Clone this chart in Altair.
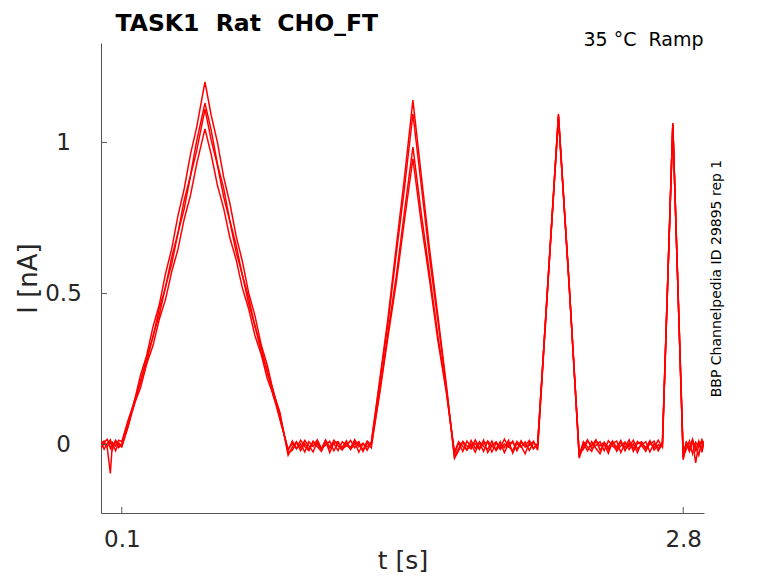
import altair as alt
import pandas as pd

# time grid (s), shared by all sweeps
t_s = [
    0.0, 0.015, 0.03, 0.045, 0.055, 0.07, 0.085, 0.1,
    0.13, 0.16, 0.19, 0.22, 0.25, 0.28, 0.31, 0.34, 0.37, 0.40, 0.43, 0.46, 0.50,
    0.53, 0.56, 0.59, 0.62, 0.65, 0.68, 0.71, 0.74, 0.77, 0.80, 0.83, 0.86, 0.90,
    0.92, 0.94, 0.96, 0.98, 1.00, 1.02, 1.04, 1.06, 1.08, 1.10, 1.12, 1.14, 1.16, 1.18, 1.20, 1.22, 1.24, 1.26, 1.28, 1.30,
    1.34, 1.38, 1.42, 1.46, 1.50,
    1.54, 1.58, 1.62, 1.66, 1.70,
    1.72, 1.74, 1.76, 1.78, 1.80, 1.82, 1.84, 1.86, 1.88, 1.90, 1.92, 1.94, 1.96, 1.98, 2.00, 2.02, 2.04, 2.06, 2.08, 2.10,
    2.15, 2.20, 2.25, 2.30,
    2.32, 2.34, 2.36, 2.38, 2.40, 2.42, 2.44, 2.46, 2.48, 2.50, 2.52, 2.54, 2.56, 2.58, 2.60, 2.62, 2.64, 2.66, 2.68, 2.70,
    2.75, 2.80,
    2.815, 2.83, 2.845, 2.86, 2.875, 2.89, 2.90,
]

# current (nA) of the four sweeps
sweep_1 = [
    0.005, 0.012, -0.010, -0.095, 0.008, -0.004, 0.015, 0.010,
    0.080, 0.142, 0.230, 0.296, 0.390, 0.462, 0.565, 0.648, 0.757, 0.846, 0.960, 1.050, 1.200,
    1.090, 1.000, 0.885, 0.798, 0.690, 0.606, 0.503, 0.428, 0.332, 0.262, 0.172, 0.108, -0.035,
    -0.008, 0.010, -0.020, 0.004, -0.015, 0.012, -0.006, -0.022, 0.008, -0.012, 0.015, -0.004, -0.018, 0.006, -0.010, 0.011, -0.025, 0.003, -0.007, 0.005,
    0.212, 0.418, 0.655, 0.887, 1.140,
    0.893, 0.648, 0.428, 0.203, -0.040,
    -0.012, 0.008, -0.018, 0.002, -0.025, 0.010, -0.006, -0.015, 0.012, -0.020, 0.000, -0.010, 0.014, -0.028, 0.004, -0.008, 0.009, -0.019, 0.006, -0.005,
    0.548, 1.095, 0.550, -0.045,
    0.005, -0.020, 0.010, -0.012, -0.030, 0.006, -0.008, 0.012, -0.022, -0.004, 0.009, -0.016, 0.003, -0.026, 0.008, -0.011, 0.013, -0.018, 0.000, -0.006,
    1.064, -0.050,
    0.010, -0.020, 0.015, -0.060, 0.005, -0.012, 0.012,
]
sweep_2 = [
    -0.006, 0.008, 0.018, -0.012, 0.004, -0.020, 0.006, -0.004,
    0.062, 0.145, 0.204, 0.290, 0.355, 0.450, 0.520, 0.620, 0.700, 0.808, 0.890, 1.004, 1.130,
    1.040, 0.928, 0.848, 0.740, 0.660, 0.560, 0.487, 0.392, 0.325, 0.236, 0.175, 0.090, -0.020,
    0.012, -0.014, 0.003, -0.024, 0.010, -0.006, 0.016, -0.012, -0.002, 0.011, -0.020, 0.007, -0.009, 0.013, -0.016, 0.002, 0.010, -0.022, 0.006, -0.010,
    0.175, 0.370, 0.558, 0.774, 0.985,
    0.766, 0.566, 0.360, 0.184, -0.030,
    0.006, -0.022, 0.012, -0.008, 0.004, -0.016, 0.015, -0.026, -0.002, 0.009, -0.012, 0.018, -0.006, -0.020, 0.011, -0.004, -0.030, 0.007, -0.014, 0.004,
    0.540, 1.090, 0.545, -0.030,
    -0.015, 0.012, -0.004, 0.016, -0.018, 0.002, -0.028, 0.010, -0.008, 0.014, -0.020, 0.005, -0.012, 0.011, -0.003, -0.022, 0.008, -0.010, 0.015, -0.008,
    1.060, -0.040,
    -0.015, 0.012, -0.030, 0.008, -0.008, 0.016, -0.004,
]
sweep_3 = [
    0.010, -0.015, 0.004, 0.016, -0.008, 0.012, -0.010, 0.002,
    0.072, 0.132, 0.212, 0.274, 0.360, 0.428, 0.522, 0.598, 0.700, 0.780, 0.888, 0.972, 1.110,
    1.008, 0.924, 0.820, 0.738, 0.637, 0.562, 0.466, 0.396, 0.307, 0.244, 0.158, 0.100, -0.028,
    -0.018, 0.006, -0.010, 0.014, -0.004, -0.024, 0.009, -0.014, 0.016, -0.008, 0.004, -0.020, 0.010, -0.002, -0.013, 0.017, -0.007, 0.005, -0.018, 0.009,
    0.204, 0.402, 0.630, 0.852, 1.095,
    0.860, 0.620, 0.410, 0.195, -0.045,
    -0.020, 0.011, -0.004, -0.014, 0.016, -0.010, 0.003, 0.010, -0.024, 0.006, -0.016, 0.002, -0.008, 0.012, -0.020, 0.007, -0.003, 0.014, -0.012, 0.002,
    0.545, 1.085, 0.540, -0.035,
    0.010, -0.008, -0.022, 0.014, -0.004, 0.008, -0.016, 0.004, 0.012, -0.026, 0.006, -0.006, 0.015, -0.014, -0.002, 0.010, -0.024, 0.004, -0.012, 0.008,
    1.062, -0.030,
    0.008, -0.010, 0.018, -0.018, 0.012, -0.025, 0.006,
]
sweep_4 = [
    -0.012, 0.004, -0.006, 0.010, -0.016, 0.014, 0.000, -0.008,
    0.058, 0.134, 0.188, 0.268, 0.328, 0.414, 0.480, 0.572, 0.646, 0.746, 0.824, 0.928, 1.045,
    0.960, 0.858, 0.782, 0.684, 0.612, 0.518, 0.450, 0.362, 0.300, 0.218, 0.162, 0.084, -0.015,
    0.004, -0.012, 0.015, -0.006, -0.020, 0.008, 0.002, -0.016, 0.012, -0.026, 0.006, 0.010, -0.014, -0.004, 0.014, -0.010, 0.004, -0.018, 0.012, 0.000,
    0.168, 0.356, 0.536, 0.745, 0.946,
    0.735, 0.545, 0.345, 0.176, -0.025,
    0.010, -0.006, -0.018, 0.014, -0.012, 0.005, -0.022, 0.012, -0.006, -0.014, 0.010, -0.026, 0.004, 0.008, -0.016, 0.013, -0.008, -0.002, 0.011, -0.018,
    0.538, 1.080, 0.548, -0.040,
    -0.006, 0.016, -0.012, -0.002, 0.010, -0.020, 0.013, -0.004, -0.016, 0.008, -0.010, 0.016, -0.022, 0.004, 0.009, -0.014, 0.002, 0.012, -0.020, 0.003,
    1.058, -0.045,
    0.004, -0.022, 0.010, -0.006, -0.035, 0.014, -0.002,
]

x_ticks = [0.1, 2.8]
y_ticks = [0, 0.5, 1]
x_limits = [0, 2.9]
y_limits = [-0.226, 1.329]

title_text = "TASK1\u00a0\u00a0Rat\u00a0\u00a0CHO_FT"
corner_text = "35 \u00b0C\u00a0\u00a0Ramp"
side_text = "BBP Channelpedia ID 29895 rep 1"

rows = []
for name, vals in [("1", sweep_1), ("2", sweep_2), ("3", sweep_3), ("4", sweep_4)]:
    assert len(vals) == len(t_s), (name, len(vals), len(t_s))
    for t, v in zip(t_s, vals):
        rows.append({"t": t, "I": v, "sweep": name})
df = pd.DataFrame(rows)

W, H = 603, 470
FONT = "DejaVu Sans"
AX = "#555555"
TXT = "#262626"

xs = alt.Scale(domain=x_limits, nice=False, zero=False)
ys = alt.Scale(domain=y_limits, nice=False, zero=False)

lines = alt.Chart(df).mark_line(color="#ff0000", strokeWidth=1.5, clip=True).encode(
    x=alt.X("t:Q", scale=xs, axis=alt.Axis(
        orient="bottom", values=x_ticks, format=".1f", grid=False, ticks=False, tickSize=0,
        domainColor=AX, domainWidth=1, labelFont=FONT, labelFontSize=23, labelColor=TXT,
        labelPadding=15, labelFlush=False, title="t [s]", titleFont=FONT, titleFontSize=25,
        titleFontWeight="normal", titleColor=TXT, titleX=W / 2, titleY=55,
        titleAlign="center", titleBaseline="alphabetic")),
    y=alt.Y("I:Q", scale=ys, axis=alt.Axis(
        orient="left", values=y_ticks, format="~g", grid=False, ticks=False, tickSize=0,
        domainColor=AX, domainWidth=1, labelFont=FONT, labelFontSize=23, labelColor=TXT,
        labelAlign="center", labelBaseline="middle", labelPadding=38, labelFlush=False,
        title="I [nA]", titleFont=FONT, titleFontSize=26, titleFontWeight="normal",
        titleColor=TXT, titleX=-73, titleY=H / 2, titleAngle=270,
        titleAlign="center", titleBaseline="middle")),
    detail="sweep:N",
)

xt = alt.Chart(pd.DataFrame({"v": x_ticks})).mark_rule(color=AX, strokeWidth=1).encode(
    x=alt.X("v:Q", scale=xs, axis=alt.Axis(
        orient="top", labels=False, ticks=False, domain=False, grid=False,
        title=corner_text, titleFont=FONT, titleFontSize=19, titleFontWeight="normal",
        titleColor="#000000", titleX=W - 1, titleY=2, titleAlign="right",
        titleBaseline="alphabetic")),
    y=alt.value(H),
    y2=alt.value(H - 6),
)

head = alt.Chart(pd.DataFrame({"v": x_ticks})).mark_rule(opacity=0).encode(
    x=alt.X("v:Q", scale=xs, axis=alt.Axis(
        orient="top", labels=False, ticks=False, domain=False, grid=False,
        title=title_text, titleFont=FONT, titleFontSize=23.5, titleFontWeight="bold",
        titleColor="#000000", titleX=14, titleY=-13, titleAlign="left",
        titleBaseline="alphabetic")),
    y=alt.value(0),
    y2=alt.value(1),
)

yt = alt.Chart(pd.DataFrame({"v": y_ticks})).mark_rule(color=AX, strokeWidth=1).encode(
    y=alt.Y("v:Q", scale=ys, axis=alt.Axis(
        orient="right", labels=False, ticks=False, domain=False, grid=False,
        title=side_text, titleFont=FONT, titleFontSize=14, titleFontWeight="normal",
        titleColor="#000000", titleX=12, titleY=H / 2, titleAngle=270,
        titleAlign="center", titleBaseline="middle")),
    x=alt.value(0),
    x2=alt.value(6),
)

chart = alt.layer(lines, xt, head, yt).properties(
    width=W,
    height=H,
    autosize=alt.AutoSizeParams(type="none"),
    padding={"left": 93, "top": 35, "right": 66, "bottom": 62},
    background="white",
).configure_view(stroke=None)

chart.save("out.html", embed_options={"renderer": "svg", "actions": False})
